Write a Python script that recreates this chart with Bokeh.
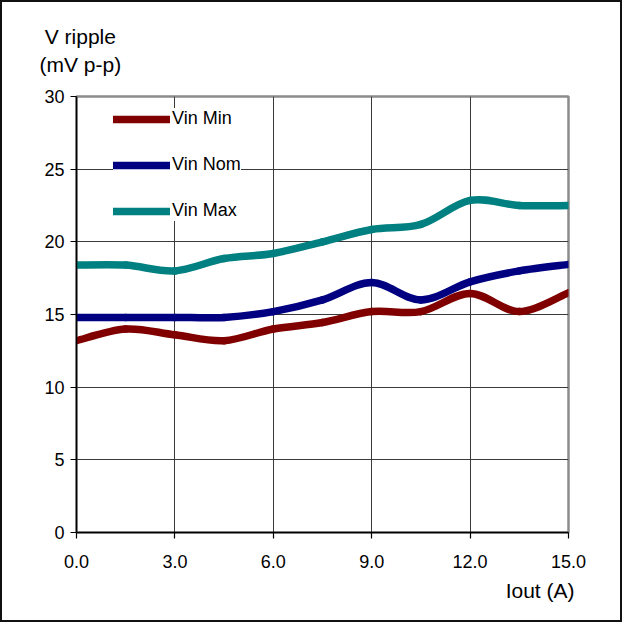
import numpy as np
from bokeh.plotting import figure
from bokeh.models import Legend, LegendItem, Title, FixedTicker, Range1d
from bokeh.embed import file_html
from bokeh.resources import INLINE

# ---- data ----
iout = [0.0, 1.5, 3.0, 4.5, 6.0, 7.5, 9.0, 10.5, 12.0, 13.5, 15.0]
vin_min = [13.2, 14.0, 13.6, 13.2, 14.0, 14.45, 15.2, 15.2, 16.45, 15.2, 16.5]
vin_nom = [14.8, 14.8, 14.8, 14.8, 15.2, 16.0, 17.2, 16.0, 17.25, 18.0, 18.45]
vin_max = [18.4, 18.4, 18.0, 18.85, 19.2, 20.0, 20.85, 21.2, 22.85, 22.5, 22.5]
series_names = ["Vin Min", "Vin Nom", "Vin Max"]
series_colors = ["#800000", "#000080", "#008080"]
x_ticks = [0, 3, 6, 9, 12, 15]
y_ticks = [0, 5, 10, 15, 20, 25, 30]
y_title = "V ripple\n(mV p-p)"
x_title = "Iout (A)"

FONT = "Liberation Sans"

p = figure(width=622, height=622, output_backend="svg", toolbar_location=None,
           x_range=Range1d(0, 15), y_range=Range1d(0, 30),
           min_border_left=74, min_border_right=56, min_border_top=94, min_border_bottom=92)
p.styles = {"border": "2px solid #111111"}
p.background_fill_color = "white"
p.border_fill_color = "white"
p.outline_line_color = "#8c8c8c"
p.outline_line_width = 2.5

for ax in (p.xaxis[0], p.yaxis[0]):
    ax.axis_line_color = "black"
    ax.axis_line_width = 1.5
    ax.major_tick_line_color = "black"
    ax.major_tick_line_width = 1.2
    ax.major_tick_in = 0
    ax.major_tick_out = 6
    ax.minor_tick_line_color = None
    ax.major_label_text_font = FONT
    ax.major_label_text_font_size = "18px"
    ax.major_label_text_color = "black"

p.xaxis[0].ticker = FixedTicker(ticks=x_ticks)
p.yaxis[0].ticker = FixedTicker(ticks=y_ticks)
p.xaxis[0].major_label_overrides = {t: f"{t:.1f}" for t in x_ticks}
p.xaxis[0].major_label_standoff = 16
p.yaxis[0].major_label_standoff = 6

p.xgrid.ticker = FixedTicker(ticks=x_ticks)
p.ygrid.ticker = FixedTicker(ticks=y_ticks)
for g in (p.xgrid[0], p.ygrid[0]):
    g.grid_line_color = "#3a3a3a"
    g.grid_line_width = 1

# smooth (Excel-like) curves via Catmull-Rom -> cubic bezier in data space
def bezier_segments(xs, ys):
    xs = np.asarray(xs, float)
    ys = np.asarray(ys, float)
    n = len(xs)
    x0, y0, x1, y1, cx0, cy0, cx1, cy1 = [], [], [], [], [], [], [], []
    for i in range(n - 1):
        im1 = max(i - 1, 0)
        ip2 = min(i + 2, n - 1)
        x0.append(xs[i]); y0.append(ys[i])
        x1.append(xs[i + 1]); y1.append(ys[i + 1])
        cx0.append(xs[i] + (xs[i + 1] - xs[im1]) / 6)
        cy0.append(ys[i] + (ys[i + 1] - ys[im1]) / 6)
        cx1.append(xs[i + 1] - (xs[ip2] - xs[i]) / 6)
        cy1.append(ys[i + 1] - (ys[ip2] - ys[i]) / 6)
    return dict(x0=x0, y0=y0, x1=x1, y1=y1, cx0=cx0, cy0=cy0, cx1=cx1, cy1=cy1)

items = []
for name, ys, col in zip(series_names, [vin_min, vin_nom, vin_max], series_colors):
    d = bezier_segments(iout, ys)
    r = p.bezier(x0=d["x0"], y0=d["y0"], x1=d["x1"], y1=d["y1"],
                 cx0=d["cx0"], cy0=d["cy0"], cx1=d["cx1"], cy1=d["cy1"],
                 line_color=col, line_width=7.5, line_cap="round")
    items.append(LegendItem(label=name, renderers=[r]))

legend = Legend(items=items, location=(37, 311), padding=12, margin=0,
                glyph_width=57, glyph_height=20, label_height=20, spacing=25,
                label_standoff=2, label_text_font=FONT, label_text_font_size="18px",
                label_text_color="black", label_text_baseline="middle",
                background_fill_color="white", background_fill_alpha=1.0,
                border_line_color=None)
p.add_layout(legend, "center")

# y axis title (two lines, horizontal, above the frame)
tkw = dict(text=y_title, align="left", offset=-37, standoff=41,
           text_font=FONT, text_font_size="21px", text_font_style="normal",
           text_color="black", text_line_height=1.2)
try:
    t_y = Title(text_align="center", **tkw)
except Exception:
    t_y = Title(**tkw)
p.add_layout(t_y, "above")

t_x = Title(text=x_title, align="right", offset=-6, standoff=13,
            text_font=FONT, text_font_size="21px", text_font_style="normal",
            text_color="black")
p.add_layout(t_x, "below")

open("out.html", "w").write(file_html(p, INLINE))
